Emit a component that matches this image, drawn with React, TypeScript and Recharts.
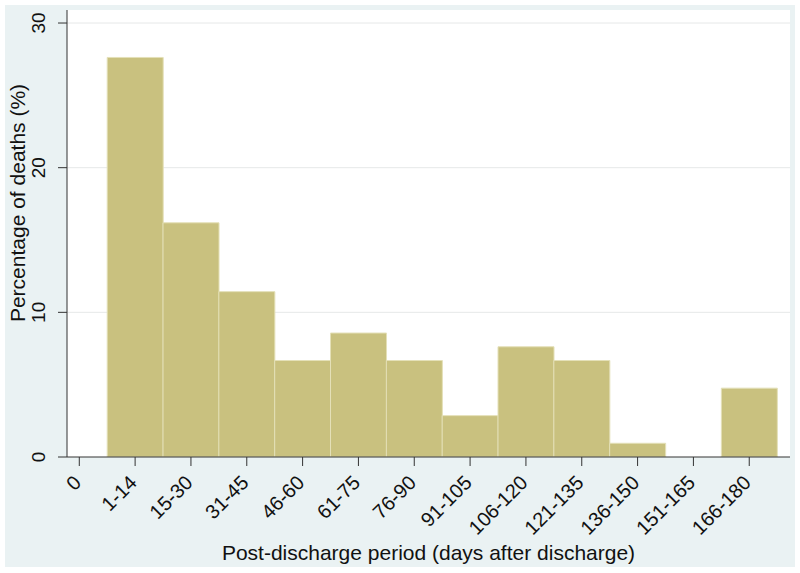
import React from "react";
import { BarChart, Bar, XAxis, YAxis, CartesianGrid } from "recharts";

const categories = ["1-14", "15-30", "31-45", "46-60", "61-75", "76-90", "91-105", "106-120", "121-135", "136-150", "151-165", "166-180"];
const tickLabels = ["0", ...categories];
const percentages = [27.62, 16.19, 11.43, 6.67, 8.57, 6.67, 2.86, 7.62, 6.67, 0.95, 0, 4.76];
const xTicks = [0, 1, 2, 3, 4, 5, 6, 7, 8, 9, 10, 11, 12];
const yTicks = [0, 10, 20, 30];

const data = categories.map((c, i) => ({ pos: i + 1, label: c, value: percentages[i] }));

const FONT = "'Liberation Sans', Arial, sans-serif";

const XTick = (props: any) => {
  const { x, y, payload } = props;
  return (
    <g transform={`translate(${x + 3},${y + 18})`}>
      <text textAnchor="end" transform="rotate(-45)" fontFamily={FONT} fontSize={20} fill="#111">
        {tickLabels[payload.value]}
      </text>
    </g>
  );
};

const YTick = (props: any) => {
  const { x, y, payload } = props;
  const bx = x - 13;
  return (
    <text x={bx} y={y} textAnchor="middle" transform={`rotate(-90 ${bx} ${y})`} fontFamily={FONT} fontSize={19} fill="#111">
      {payload.value}
    </text>
  );
};

export default function App() {
  return (
    <div style={{ position: "absolute", left: 0, top: 0, width: 800, height: 573, background: "#ffffff" }}>
      <div style={{ position: "absolute", left: 5, top: 5, width: 790, height: 562, background: "#eaf2f3" }} />
      <div style={{ position: "absolute", left: 0, top: 0 }}>
        <BarChart width={800} height={573} data={data} margin={{ top: 10, right: 10, left: 0, bottom: 0 }} barCategoryGap={0} barGap={0}>
          <CartesianGrid vertical={false} fill="#ffffff" stroke="#e6e8e8" strokeWidth={1} horizontalValues={[10, 20, 30]} />
          <XAxis
            dataKey="pos"
            type="number"
            domain={[-0.22, 12.73]}
            ticks={xTicks}
            interval={0}
            allowDataOverflow
            height={116}
            tickSize={9}
            tickMargin={0}
            stroke="#333"
            tickLine={{ stroke: "#333" }}
            tick={<XTick />}
            label={{
              content: (p: any) => {
                const vb = p.viewBox;
                return (
                  <text x={vb.x + vb.width / 2} y={vb.y + 103} textAnchor="middle" fontFamily={FONT} fontSize={21} fill="#111">
                    Post-discharge period (days after discharge)
                  </text>
                );
              },
            }}
          />
          <YAxis
            type="number"
            domain={[0, 30.9]}
            allowDataOverflow
            ticks={yTicks}
            width={67}
            tickSize={9}
            tickMargin={0}
            stroke="#333"
            tickLine={{ stroke: "#333" }}
            tick={<YTick />}
            label={{
              content: () => {
                const cx = 25;
                const cy = 203;
                return (
                  <text x={cx} y={cy} textAnchor="middle" transform={`rotate(-90 ${cx} ${cy})`} fontFamily={FONT} fontSize={21} fill="#111">
                    Percentage of deaths (%)
                  </text>
                );
              },
            }}
          />
          <Bar dataKey="value" fill="#c9c17f" stroke="#e4e0b8" strokeWidth={1} isAnimationActive={false} />
        </BarChart>
      </div>
    </div>
  );
}
